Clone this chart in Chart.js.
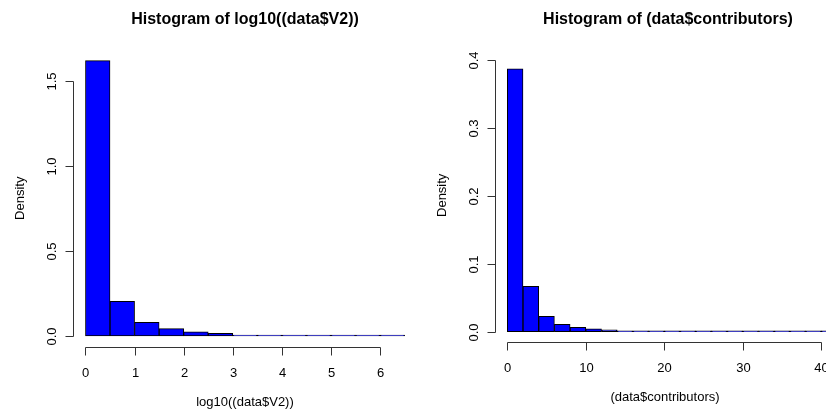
<!DOCTYPE html>
<html>
<head>
<meta charset="utf-8">
<script src="https://cdn.jsdelivr.net/npm/chart.js@4.4.0/dist/chart.umd.min.js"></script>
<style>
body { margin: 0; background: #fff; }
#wrap { position: relative; width: 826px; height: 413px; overflow: hidden; }
canvas { position: absolute; top: 0; }
</style>
</head>
<body>
<div id="wrap">
  <canvas id="left" width="420" height="413" style="left:0px"></canvas>
  <canvas id="right" width="406" height="413" style="left:420px"></canvas>
</div>
<script>
// left histogram: log10 of V2, bins of 0.5
const leftBreaks = [0, 0.5, 1, 1.5, 2, 2.5, 3, 3.5, 4, 4.5, 5, 5.5, 6, 6.5];
const leftDensity = [1.62, 0.204, 0.08, 0.043, 0.024, 0.016, 0.005, 0.003, 0.0004, 0.0003, 0.0002, 0.0001, 0.0001];
const leftXTicks = [0, 1, 2, 3, 4, 5, 6];
const leftYTicks = [0, 0.5, 1, 1.5];
const leftYLabels = ['0.0', '0.5', '1.0', '1.5'];

// right histogram: contributors, bins of 2
const rightBreaks = [0, 2, 4, 6, 8, 10, 12, 14, 16, 18, 20, 22, 24, 26, 28, 30, 32, 34, 36, 38, 40, 42];
const rightDensity = [0.387, 0.067, 0.0226, 0.011, 0.0065, 0.0044, 0.003, 0.0012, 0.001, 0.0008, 0.0006,
                      0.0001, 0.0001, 0.0001, 0.0001, 0.0001, 0.0001, 0.0001, 0.0001, 0.0001, 0.0001];
const rightXTicks = [0, 10, 20, 30, 40];
const rightYTicks = [0, 0.1, 0.2, 0.3, 0.4];
const rightYLabels = ['0.0', '0.1', '0.2', '0.3', '0.4'];

const FONT = '"Liberation Sans", Arial, sans-serif';

function toPoints(breaks, dens) {
  return dens.map((d, i) => ({ x: (breaks[i] + breaks[i + 1]) / 2, y: d }));
}

// draws R style base graphics axes, labels and title
const rAxes = {
  id: 'rAxes',
  afterDraw(chart, args, opts) {
    const ctx = chart.ctx, xs = chart.scales.x, ys = chart.scales.y, a = chart.chartArea;
    ctx.save();
    ctx.strokeStyle = '#333';
    ctx.fillStyle = '#000';
    ctx.lineWidth = 1;

    // x axis
    const ay = Math.round(a.bottom) + 0.5;
    const xp = opts.xTicks.map(v => Math.round(xs.getPixelForValue(v)) + 0.5);
    ctx.beginPath();
    ctx.moveTo(xp[0], ay);
    ctx.lineTo(xp[xp.length - 1], ay);
    xp.forEach(p => { ctx.moveTo(p, ay); ctx.lineTo(p, ay + 8); });
    ctx.stroke();
    ctx.font = '13px ' + FONT;
    ctx.textAlign = 'center';
    ctx.textBaseline = 'alphabetic';
    opts.xTicks.forEach((v, i) => ctx.fillText(String(v), xp[i], ay + 29));
    ctx.fillText(opts.xTitle, opts.xTitleX, ay + 58);

    // y axis
    const ax = Math.round(a.left) + 0.5;
    const yp = opts.yTicks.map(v => Math.round(ys.getPixelForValue(v)) + 0.5);
    ctx.beginPath();
    ctx.moveTo(ax, yp[0]);
    ctx.lineTo(ax, yp[yp.length - 1]);
    yp.forEach(p => { ctx.moveTo(ax, p); ctx.lineTo(ax - 8, p); });
    ctx.stroke();
    opts.yLabels.forEach((lab, i) => {
      ctx.save();
      ctx.translate(ax - 18, yp[i]);
      ctx.rotate(-Math.PI / 2);
      ctx.fillText(lab, 0, 0);
      ctx.restore();
    });
    ctx.save();
    ctx.translate(ax - 49.5, (a.top + a.bottom) / 2 + opts.yTitleShift);
    ctx.rotate(-Math.PI / 2);
    ctx.fillText('Density', 0, 0);
    ctx.restore();

    // main title
    ctx.font = 'bold 16px ' + FONT;
    ctx.fillText(opts.title, opts.titleX, 24);
    ctx.restore();
  }
};

function makeHist(id, breaks, dens, xr, yr, pad, axOpts) {
  return new Chart(document.getElementById(id), {
    type: 'bar',
    data: {
      datasets: [{
        data: toPoints(breaks, dens),
        backgroundColor: '#0000ff',
        borderColor: '#000',
        borderWidth: 1,
        borderSkipped: false,
        barPercentage: 1,
        categoryPercentage: 1,
        minBarLength: 1
      }]
    },
    options: {
      responsive: false,
      animation: false,
      devicePixelRatio: 1,
      layout: { padding: pad },
      scales: {
        x: { type: 'linear', offset: false, min: xr[0], max: xr[1], display: false },
        y: { type: 'linear', min: yr[0], max: yr[1], display: false }
      },
      plugins: {
        legend: { display: false },
        tooltip: { enabled: false },
        rAxes: axOpts
      }
    },
    plugins: [rAxes]
  });
}

makeHist('left', leftBreaks, leftDensity, [-0.26, 6.76], [-0.0648, 1.685],
  { left: 72.7, right: 2.6, top: 49.5, bottom: 66 },
  { xTicks: leftXTicks, yTicks: leftYTicks, yLabels: leftYLabels,
    xTitle: 'log10((data$V2))', xTitleX: 245, yTitleShift: 0,
    title: 'Histogram of log10((data$V2))', titleX: 245 });

makeHist('right', rightBreaks, rightDensity, [-1.605, 40.6], [-0.0155, 0.4025],
  { left: 74.7, right: 0, top: 58.3, bottom: 70.7 },
  { xTicks: rightXTicks, yTicks: rightYTicks, yLabels: rightYLabels,
    xTitle: '(data$contributors)', xTitleX: 245, yTitleShift: -5,
    title: 'Histogram of (data$contributors)', titleX: 248 });
</script>
</body>
</html>
